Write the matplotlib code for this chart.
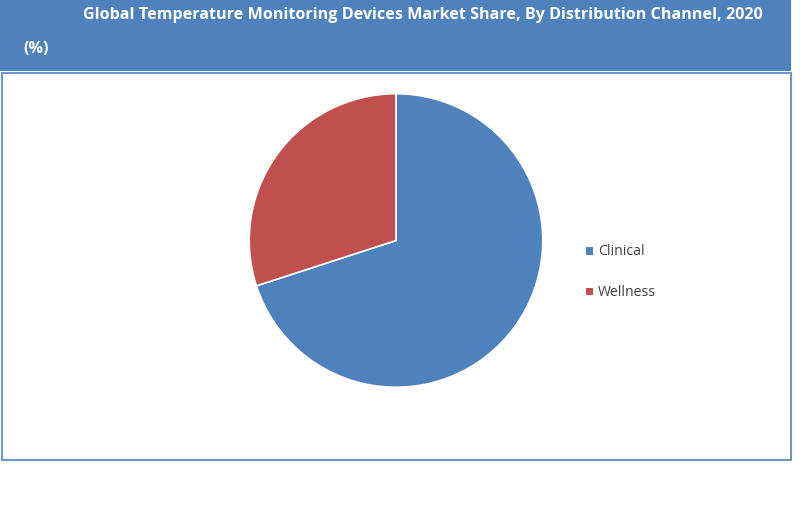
import matplotlib.pyplot as plt
from matplotlib.patches import Rectangle

# Data
channels = ['Clinical', 'Wellness']
shares = [70, 30]
colors = ['#4F81BD', '#C0504D']

title = 'Global Temperature Monitoring Devices Market Share, By Distribution Channel, 2020'
subtitle = '(%)'

W, H = 800, 506
fig = plt.figure(figsize=(W / 100, H / 100), dpi=100)

def fx(px):
    return px / W

def fy(py):
    return 1 - py / H

# header band
fig.patches.append(Rectangle((0, fy(72)), fx(791), 72 / H, transform=fig.transFigure,
                             facecolor='#4F81BD', edgecolor='none', zorder=0))
# plot frame
fig.patches.append(Rectangle((fx(2), fy(461)), fx(789), (461 - 74) / H, transform=fig.transFigure,
                             facecolor='white', edgecolor='#6F97CD', linewidth=1.5, zorder=0))

fig.text(fx(83), fy(15), title, color='white', fontsize=11.65, fontweight='bold',
         family='Open Sans', va='center', ha='left')
fig.text(fx(23), fy(49), subtitle, color='white', fontsize=11.65, fontweight='bold',
         family='Open Sans', va='center', ha='left')

# pie
r = 147.5
cx, cy = 396, 241.5
ax = fig.add_axes([fx(cx - r), fy(cy + r), 2 * r / W, 2 * r / H])
ax.set_zorder(3)
wedges, _ = ax.pie(shares, colors=colors, startangle=90, counterclock=False,
                   wedgeprops=dict(edgecolor='white', linewidth=1.2))
ax.set_aspect('auto')
ax.set_xlim(-1.005, 1.005)
ax.set_ylim(-1.005, 1.005)
ax.axis('off')

# legend
for i, (name, c) in enumerate(zip(channels, colors)):
    y = 252 + i * 40
    fig.patches.append(Rectangle((fx(586), fy(y + 3.5)), fx(7), 7 / H, transform=fig.transFigure,
                                 facecolor=c, edgecolor='none', zorder=2))
    fig.text(fx(598), fy(y), name, color='#404040', fontsize=10.1, family='Open Sans',
             va='center', ha='left')

fig.savefig('out.png', dpi=100)
